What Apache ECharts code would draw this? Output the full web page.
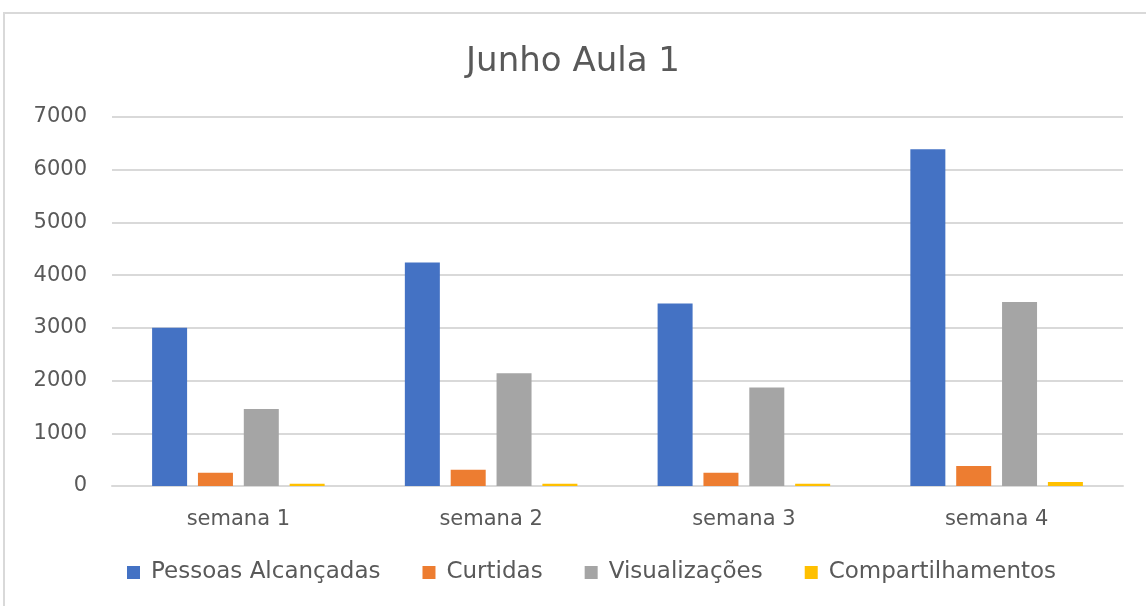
<!DOCTYPE html>
<html>
<head>
<meta charset="utf-8">
<script src="https://cdn.jsdelivr.net/npm/echarts@6/dist/echarts.min.js"></script>
<style>
  html, body { margin: 0; padding: 0; background: #fff; }
  #chart { width: 1146px; height: 606px; }
</style>
</head>
<body>
<div id="chart"></div>
<script>
const categories = ['semana 1', 'semana 2', 'semana 3', 'semana 4'];
const pessoas = [3000, 4240, 3460, 6390];
const curtidas = [250, 310, 250, 380];
const visualizacoes = [1460, 2140, 1870, 3490];
const compartilhamentos = [45, 45, 45, 75];
const yTicks = [0, 1000, 2000, 3000, 4000, 5000, 6000, 7000];

const font = 'DejaVu Sans';
const textColor = '#595959';

const chart = echarts.init(document.getElementById('chart'), null, { renderer: 'canvas' });

function bar(name, data, color) {
  return {
    name: name,
    type: 'bar',
    data: data,
    barWidth: 35,
    barGap: '31%',
    itemStyle: { color: color },
    emphasis: { disabled: true }
  };
}

chart.setOption({
  animation: false,
  color: ['#4472C4', '#ED7D31', '#A5A5A5', '#FFC000'],
  graphic: [{
    type: 'rect',
    shape: { x: 4, y: 13, width: 1300, height: 800 },
    style: { fill: 'none', stroke: '#d9d9d9', lineWidth: 2 },
    silent: true
  }],
  title: {
    text: 'Junho Aula 1',
    left: 'center',
    top: 40,
    textStyle: { fontFamily: font, fontSize: 34, fontWeight: 'normal', color: textColor }
  },
  legend: {
    bottom: 17,
    left: 122,
    itemWidth: 13,
    itemHeight: 13,
    itemGap: 42,
    icon: 'rect',
    textStyle: { fontFamily: font, fontSize: 23, color: textColor, padding: [0, 0, 0, 6] },
    data: ['Pessoas Alcançadas', 'Curtidas', 'Visualizações', 'Compartilhamentos']
  },
  grid: { left: 112, right: 23, top: 117, bottom: 120, containLabel: false },
  xAxis: {
    type: 'category',
    data: categories,
    axisLine: { lineStyle: { color: '#d9d9d9', width: 2 } },
    axisTick: { show: false },
    axisLabel: { fontFamily: font, fontSize: 21, color: textColor, margin: 23 }
  },
  yAxis: {
    type: 'value',
    min: yTicks[0],
    max: yTicks[yTicks.length - 1],
    interval: 1000,
    axisLine: { show: false },
    axisTick: { show: false },
    splitLine: { lineStyle: { color: '#d9d9d9', width: 2 } },
    axisLabel: { fontFamily: font, fontSize: 21, color: textColor, margin: 25, formatter: v => String(v) }
  },
  series: [
    bar('Pessoas Alcançadas', pessoas, '#4472C4'),
    bar('Curtidas', curtidas, '#ED7D31'),
    bar('Visualizações', visualizacoes, '#A5A5A5'),
    bar('Compartilhamentos', compartilhamentos, '#FFC000')
  ]
});
</script>
</body>
</html>
